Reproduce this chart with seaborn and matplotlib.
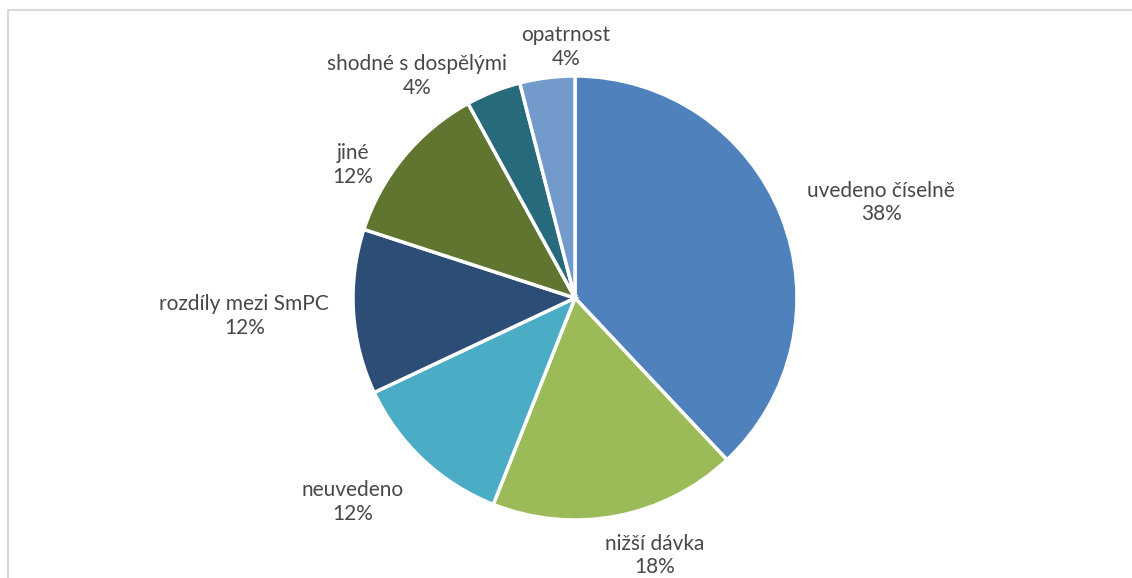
import matplotlib
matplotlib.use("Agg")
import matplotlib.pyplot as plt
import seaborn as sns
import numpy as np
from matplotlib.patches import Rectangle

categories = ["uvedeno číselně", "nižší dávka", "neuvedeno", "rozdíly mezi SmPC",
              "jiné", "shodné s dospělými", "opatrnost"]
values = [38, 18, 12, 12, 12, 4, 4]
pct_labels = ["38%", "18%", "12%", "12%", "12%", "4%", "4%"]
colors = ["#4F81BD", "#9BBB59", "#4BACC6", "#2C4D75", "#5F7530", "#276A7C", "#729ACA"]
# label offsets from the pie centre, in units of the radius
label_dx = [1.38, 0.36, -1.00, -1.49, -1.00, -0.71, -0.04]
label_dy = [0.43, -1.16, -0.92, -0.08, 0.60, 1.00, 1.13]

sns.set_theme(style="white")
plt.rcParams['font.family'] = ['Lato', 'DejaVu Sans']

W, H = 1132, 578
fig = plt.figure(figsize=(W / 100, H / 100), dpi=100)
ax = fig.add_axes([0, 0, 1, 1])

cx, cy, R = 575, 280, 222  # pixels (cy from bottom)
wedges, _ = ax.pie(values, colors=colors, startangle=90, counterclock=False,
                   radius=1.0, wedgeprops=dict(edgecolor="white", linewidth=2.5))
ax.set_xlim(-cx / R, (W - cx) / R)
ax.set_ylim(-cy / R, (H - cy) / R)
ax.set_aspect("auto")
ax.axis("off")

for cat, p, dx, dy in zip(categories, pct_labels, label_dx, label_dy):
    ax.text(dx, dy, f"{cat}\n{p}", ha="center", va="center", fontsize=15,
            color="#484848", linespacing=1.22)

fig.patches.append(Rectangle((8 / W, -0.1), 1.2, (568 / H) + 0.1, transform=fig.transFigure,
                             fill=False, edgecolor="#D9D9D9", linewidth=1.5))

fig.savefig("out.png", dpi=100, facecolor="white")
